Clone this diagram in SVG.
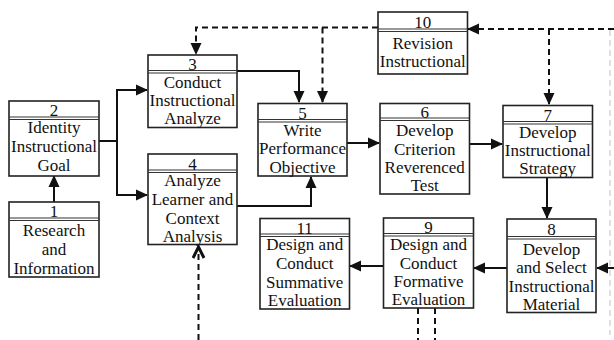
<svg xmlns="http://www.w3.org/2000/svg" width="614" height="340" viewBox="0 0 614 340">
<defs>
<style>
.box{fill:#fff;stroke:#222;stroke-width:1.6}
.sep{stroke:#333;stroke-width:1.2;fill:none}
.t{font-family:"Liberation Serif","Times New Roman",serif;font-size:17px;fill:#111;text-anchor:middle}
.c{stroke:#111;stroke-width:2;fill:none}
.d{stroke:#111;stroke-width:2;fill:none;stroke-dasharray:6 4}
</style>
<marker id="ah" markerUnits="userSpaceOnUse" markerWidth="12" markerHeight="12" viewBox="0 0 12 12" refX="11" refY="6" orient="auto">
<path d="M0,0.5 L12,6 L0,11.5 Z" fill="#111"/>
</marker>
<marker id="oh" markerUnits="userSpaceOnUse" markerWidth="14" markerHeight="14" viewBox="0 0 14 14" refX="12" refY="7" orient="auto">
<path d="M1,1.5 L12,7 L1,12.5" fill="none" stroke="#111" stroke-width="3"/>
</marker>
</defs>
<rect width="614" height="340" fill="#fff"/>

<g id="connectors">
<path class="c" d="M54,202 V176" marker-end="url(#ah)"/>
<path class="c" d="M99,141 H117 V90 H147" marker-end="url(#ah)"/>
<path class="c" d="M117,141 V195 H147" marker-end="url(#ah)"/>
<path class="c" d="M237,71 H299 V102" marker-end="url(#ah)"/>
<path class="c" d="M237,206 H311 V177" marker-end="url(#ah)"/>
<path class="c" d="M347,143 H379" marker-end="url(#ah)"/>
<path class="c" d="M469,144 H502" marker-end="url(#ah)"/>
<path class="c" d="M547,178 V218" marker-end="url(#ah)"/>
<path class="c" d="M614,268 H597" marker-end="url(#ah)"/>
<path class="c" d="M507,268 H474" marker-end="url(#ah)"/>
<path class="c" d="M383,266 H350" marker-end="url(#ah)"/>
<path class="d" d="M378,27.5 H196 V54" marker-end="url(#ah)"/>
<path class="d" d="M322.5,27.5 V102" marker-end="url(#ah)"/>
<path class="d" d="M614,29 H468" marker-end="url(#ah)"/>
<path class="d" d="M549,29 V104" marker-end="url(#ah)"/>
<path class="d" d="M198.5,340 V247" marker-end="url(#oh)"/>
<path class="d" d="M418,308 V340"/>
<path class="d" d="M435,308 V340"/>
<path d="M610,30 V335" stroke="#d6d6d6" stroke-width="1.5" stroke-dasharray="6 4" fill="none"/>
</g>

<g id="n1">
<rect class="box" x="9" y="202" width="90" height="75"/>
<path class="sep" d="M9,218 H99 M9,220.5 H99"/>
<text class="t" x="54" y="217">1</text>
<text class="t" x="54" y="236">Research</text>
<text class="t" x="54" y="255">and</text>
<text class="t" x="54" y="274">Information</text>
</g>

<g id="n2">
<rect class="box" x="9" y="101" width="90" height="75"/>
<path class="sep" d="M9,117 H99 M9,119.5 H99"/>
<text class="t" x="54" y="116">2</text>
<text class="t" x="54" y="133">Identity</text>
<text class="t" x="54" y="152">Instructional</text>
<text class="t" x="54" y="171">Goal</text>
</g>

<g id="n3">
<rect class="box" x="148" y="55" width="89" height="72.5"/>
<path class="sep" d="M148,70.5 H237 M148,73 H237"/>
<text class="t" x="192.5" y="70">3</text>
<text class="t" x="192.5" y="87.5">Conduct</text>
<text class="t" x="192.5" y="106">Instructional</text>
<text class="t" x="192.5" y="124">Analyze</text>
</g>

<g id="n4">
<rect class="box" x="148" y="154" width="89" height="90.5"/>
<path class="sep" d="M148,170 H237 M148,172.5 H237"/>
<text class="t" x="192.5" y="169.5">4</text>
<text class="t" x="192.5" y="186">Analyze</text>
<text class="t" x="192.5" y="205">Learner and</text>
<text class="t" x="192.5" y="224">Context</text>
<text class="t" x="192.5" y="242">Analysis</text>
</g>

<g id="n5">
<rect class="box" x="258" y="103.5" width="89" height="72.5"/>
<path class="sep" d="M258,119.5 H347 M258,122 H347"/>
<text class="t" x="302.5" y="118.5">5</text>
<text class="t" x="302.5" y="135.5">Write</text>
<text class="t" x="302.5" y="154">Performance</text>
<text class="t" x="302.5" y="172.5">Objective</text>
</g>

<g id="n6">
<rect class="box" x="380" y="103.5" width="89.5" height="90.5"/>
<path class="sep" d="M380,118 H469.5 M380,120.5 H469.5"/>
<text class="t" x="424.7" y="117.5">6</text>
<text class="t" x="424.7" y="136">Develop</text>
<text class="t" x="424.7" y="155">Criterion</text>
<text class="t" x="424.7" y="173">Reverenced</text>
<text class="t" x="424.7" y="191">Test</text>
</g>

<g id="n7">
<rect class="box" x="503" y="105.5" width="89.5" height="72"/>
<path class="sep" d="M503,121.5 H592.5 M503,124 H592.5"/>
<text class="t" x="547.7" y="121">7</text>
<text class="t" x="547.7" y="137.5">Develop</text>
<text class="t" x="547.7" y="156">Instructional</text>
<text class="t" x="547.7" y="174">Strategy</text>
</g>

<g id="n8">
<rect class="box" x="507" y="219" width="89" height="93.5"/>
<path class="sep" d="M507,236.5 H596 M507,239 H596"/>
<text class="t" x="551.5" y="234.5">8</text>
<text class="t" x="551.5" y="254.5">Develop</text>
<text class="t" x="551.5" y="273">and Select</text>
<text class="t" x="551.5" y="292">Instructional</text>
<text class="t" x="551.5" y="310">Material</text>
</g>

<g id="n9">
<rect class="box" x="383.5" y="218" width="90" height="90"/>
<path class="sep" d="M383.5,233.5 H473.5 M383.5,236 H473.5"/>
<text class="t" x="428.5" y="233">9</text>
<text class="t" x="428.5" y="249.5">Design and</text>
<text class="t" x="428.5" y="268.5">Conduct</text>
<text class="t" x="428.5" y="287">Formative</text>
<text class="t" x="428.5" y="305">Evaluation</text>
</g>

<g id="n10">
<rect class="box" x="378" y="12" width="89.5" height="62"/>
<path class="sep" d="M378,29 H467.5 M378,31.5 H467.5"/>
<text class="t" x="422.7" y="27.5">10</text>
<text class="t" x="422.7" y="48.5">Revision</text>
<text class="t" x="422.7" y="66.5">Instructional</text>
</g>

<g id="n11">
<rect class="box" x="260" y="218.5" width="89.5" height="90.5"/>
<path class="sep" d="M260,234 H349.5 M260,236.5 H349.5"/>
<text class="t" x="304.7" y="233.5">11</text>
<text class="t" x="304.7" y="250">Design and</text>
<text class="t" x="304.7" y="269">Conduct</text>
<text class="t" x="304.7" y="287.5">Summative</text>
<text class="t" x="304.7" y="306">Evaluation</text>
</g>
</svg>
